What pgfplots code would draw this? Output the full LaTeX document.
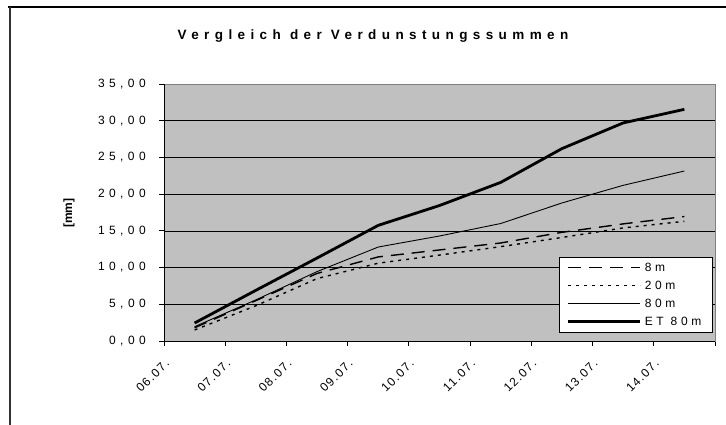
\documentclass[border=0pt]{standalone}
\usepackage{fontspec}
\setmainfont{Liberation Sans}
\newfontfamily\spacedfont[LetterSpace=37]{Liberation Sans}
\newfontfamily\legendfont[LetterSpace=30]{Liberation Sans}
\newfontfamily\xfont[LetterSpace=12]{Liberation Sans}
\newfontfamily\titlefont[LetterSpace=40]{Liberation Sans}
\usepackage{pgfplots}
\pgfplotsset{compat=1.18}
\definecolor{plotgray}{HTML}{C0C0C0}
\definecolor{bordergray}{HTML}{808080}
\pgfplotstableread{
x    a     b     c     d
0.5  1.80  1.50  1.95  2.45
1.5  5.50  4.80  5.60  6.90
2.5  9.20  8.50  9.45  11.30
3.5  11.45 10.60 12.80 15.75
4.5  12.40 11.70 14.30 18.45
5.5  13.35 12.85 16.00 21.60
6.5  14.80 14.10 18.80 26.20
7.5  15.95 15.40 21.20 29.70
8.5  16.95 16.30 23.15 31.55
}\datatable
\begin{document}
\begin{tikzpicture}
\begin{axis}[
  at={(0,0)}, anchor=origin,
  scale only axis,
  width=551bp, height=257bp,
  xmin=0, xmax=9, ymin=0, ymax=35,
  axis background/.style={fill=plotgray},
  axis line style={draw=bordergray, line width=0.8bp},
  xtick={0,...,9},
  xticklabels={06.07.,07.07.,08.07.,09.07.,10.07.,11.07.,12.07.,13.07.,14.07.,{}},
  ytick={0,5,...,35},
  yticklabels={{0,00},{5,00},{10,00},{15,00},{20,00},{25,00},{30,00},{35,00}},
  tick align=outside,
  major tick length=5bp,
  tick style={black, line width=0.8bp},
  xtick pos=bottom, ytick pos=left,
  ymajorgrids,
  major grid style={black, line width=0.7bp},
  yticklabel style={font=\fontsize{12bp}{14bp}\spacedfont, anchor=east, inner sep=0pt, xshift=-13bp},
  xticklabel style={font=\fontsize{12bp}{14bp}\xfont, rotate=45, anchor=north east, inner sep=0pt},
  xticklabel shift=12bp,
  legend cell align=left,
  legend image code/.code={\draw[#1] (0bp,0bp) -- (72bp,0bp);},
  legend style={at={(rel axis cs:0.9958,0.0323)}, anchor=south east,
    draw=black, line width=0.8bp, fill=white, font=\fontsize{12bp}{14bp}\legendfont,
    inner xsep=8bp, inner ysep=3bp, row sep=3bp,
    nodes={inner xsep=3bp, inner ysep=3bp, text height=8.5bp, text depth=0.5bp}},
]
\addplot[black, line width=1.4bp, dash pattern=on 13bp off 8bp] table[x=x,y=a]{\datatable};
\addlegendentry{8m}
\addplot[black, line width=1.4bp, dash pattern=on 3bp off 5bp] table[x=x,y=b]{\datatable};
\addlegendentry{20m}
\addplot[black, line width=0.9bp] table[x=x,y=c]{\datatable};
\addlegendentry{80m}
\addplot[black, line width=2.8bp] table[x=x,y=d]{\datatable};
\addlegendentry{ET 80m}
\draw[black, line width=0.9bp] (rel axis cs:0,1) -- (rel axis cs:0,0) -- (rel axis cs:1,0);
\end{axis}
\node[font=\fontsize{13.5bp}{15bp}\titlefont\bfseries] at (209bp,305bp) {Vergleich der Verdunstungssummen};
\node[font=\fontsize{12bp}{14bp}\selectfont\bfseries, rotate=90] at (-95bp,128bp) {[mm]};
\draw[black, line width=1.2bp] (-156bp,334bp) -- (562bp,334bp);
\draw[black!80, line width=2bp] (-154bp,334bp) -- (-154bp,-84bp);
\pgfresetboundingbox
\useasboundingbox (-164bp,-84bp) rectangle (562bp,341bp);
\end{tikzpicture}
\end{document}
